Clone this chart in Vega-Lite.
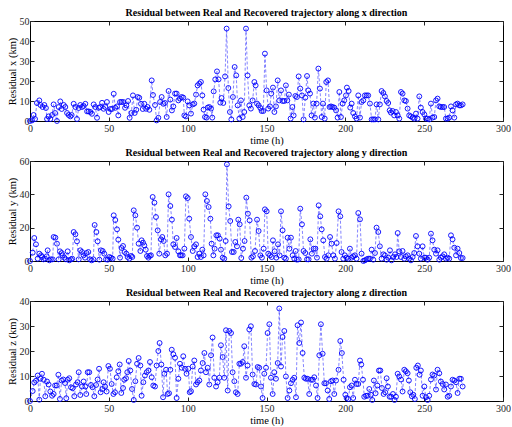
{
"$schema":"https://vega.github.io/schema/vega-lite/v6.json",
"padding":{"left":6,"top":7,"right":0,"bottom":0},
"spacing":1,
"config":{"font":"Liberation Serif","view":{"stroke":"#000","strokeWidth":1},
"axis":{"domain":false,"grid":false,"tickSize":-4,"tickColor":"#262626","labelFont":"Liberation Serif","labelFontSize":10,"labelColor":"#262626","labelFlush":false,"titleFont":"Liberation Serif","titleFontSize":10.5,"titleFontWeight":"normal","titleColor":"#000","titlePadding":2},
"axisBottom":{"labelPadding":6},
"axisLeft":{"labelPadding":5},
"axisTop":{"labelPadding":0,"minExtent":0,"maxExtent":0},
"axisRight":{"labelPadding":0,"minExtent":0,"maxExtent":0},
"title":{"font":"Liberation Serif","fontSize":10,"fontWeight":"bold","color":"#000","anchor":"middle","frame":"group","offset":1,"dy":3}},
"datasets":{
"px":[{"t":0,"v":0},{"t":1.3,"v":0.3},{"t":2.3,"v":3},{"t":3.2,"v":1},{"t":4.4,"v":9},{"t":5.9,"v":10.3},{"t":6.6,"v":8},{"t":8,"v":7},{"t":9.1,"v":8},{"t":10.1,"v":6.5},{"t":10.8,"v":1},{"t":11.8,"v":2.3},{"t":12.9,"v":1},{"t":14,"v":3},{"t":15,"v":8.3},{"t":15.9,"v":4},{"t":17.1,"v":0},{"t":18.2,"v":7},{"t":19.2,"v":9.8},{"t":20.1,"v":6},{"t":21.4,"v":8},{"t":22.4,"v":7},{"t":23.5,"v":4},{"t":24.5,"v":3},{"t":25.6,"v":2.3},{"t":26.4,"v":3},{"t":27.7,"v":8.6},{"t":28.8,"v":7},{"t":29.8,"v":1},{"t":30.9,"v":6.5},{"t":31.9,"v":8},{"t":33,"v":7},{"t":34,"v":7.5},{"t":35.1,"v":8.6},{"t":36.2,"v":4.8},{"t":37.2,"v":4.8},{"t":38.3,"v":4.5},{"t":39.3,"v":3.6},{"t":40.4,"v":8.3},{"t":41.4,"v":7},{"t":42.5,"v":1.6},{"t":43.6,"v":6.6},{"t":44.6,"v":7},{"t":45.7,"v":9.1},{"t":46.7,"v":6.1},{"t":47.8,"v":7},{"t":48.8,"v":9.5},{"t":49.9,"v":4.5},{"t":51,"v":6},{"t":52,"v":6},{"t":53.1,"v":13.6},{"t":54.1,"v":6.6},{"t":55.2,"v":7.3},{"t":56,"v":2.8},{"t":57.1,"v":9.5},{"t":58.1,"v":9.5},{"t":59.2,"v":9.5},{"t":60.3,"v":6.6},{"t":61.1,"v":7.8},{"t":62.2,"v":10},{"t":63.2,"v":1.6},{"t":64.3,"v":4},{"t":65.3,"v":12.8},{"t":66.4,"v":4},{"t":67.4,"v":5.6},{"t":68.3,"v":12},{"t":69.3,"v":11.6},{"t":70.4,"v":8.6},{"t":71.5,"v":6},{"t":72.5,"v":8.6},{"t":73.6,"v":6.1},{"t":74.6,"v":7},{"t":75.7,"v":5.6},{"t":77.2,"v":20.3},{"t":78,"v":13},{"t":79.3,"v":8},{"t":80.3,"v":0.3},{"t":81.4,"v":1.6},{"t":82.5,"v":9.5},{"t":83.5,"v":12},{"t":84.6,"v":8.6},{"t":85.6,"v":9},{"t":86.7,"v":2},
{"t":87.9,"v":15},{"t":89,"v":10.7},{"t":90,"v":5.3},{"t":90.9,"v":7.3},{"t":92,"v":13.7},{"t":93,"v":13.7},{"t":94.1,"v":10.3},{"t":95.1,"v":11.2},{"t":96.2,"v":12},{"t":97.2,"v":11.7},{"t":97.9,"v":2.8},{"t":98.9,"v":2.3},{"t":100,"v":9.8},{"t":101,"v":7.8},{"t":102.1,"v":3.7},{"t":103.2,"v":8.3},{"t":104.2,"v":8.7},{"t":105.3,"v":13.2},{"t":106.3,"v":17.8},{"t":107.4,"v":18.7},{"t":108.4,"v":19.5},{"t":109.3,"v":12.8},{"t":110.1,"v":5.7},{"t":111,"v":2},{"t":112,"v":1.7},{"t":112.7,"v":6.7},{"t":113.7,"v":7},{"t":114.8,"v":6.2},{"t":115.6,"v":1.7},{"t":116.5,"v":14.8},{"t":117.5,"v":20.8},{"t":118.6,"v":24.8},{"t":119.6,"v":20.8},{"t":120.7,"v":9.2},{"t":121.5,"v":11.5},{"t":122.6,"v":9},{"t":123.7,"v":22.3},{"t":124.7,"v":46.2},{"t":125.8,"v":16.5},{"t":126.8,"v":4.5},{"t":127.7,"v":0.8},{"t":128.7,"v":12},{"t":129.8,"v":27},{"t":130.8,"v":22.8},{"t":131.7,"v":7.8},{"t":132.8,"v":1.2},{"t":133.8,"v":10.3},{"t":134.9,"v":2},{"t":135.9,"v":4.5},{"t":137,"v":46.2},{"t":138,"v":22.8},{"t":139.1,"v":7.8},{"t":140.1,"v":6.2},{"t":141.2,"v":10.3},{"t":142.3,"v":19.5},{"t":143.1,"v":17.8},{"t":144,"v":8.7},{"t":145,"v":7.8},{"t":146.1,"v":6.5},{"t":146.9,"v":5},{"t":148,"v":5},{"t":149,"v":33.7},{"t":150.1,"v":15.3},{"t":151.1,"v":6.2},{"t":152.2,"v":7.3},{"t":153,"v":13.7},{"t":154.1,"v":16.7},{"t":155,"v":4.5},{"t":156,"v":7.3},{"t":157.1,"v":20.3},{"t":158.1,"v":10.3},{"t":159.2,"v":15.3},{"t":160.2,"v":10},{"t":161.3,"v":10},{"t":162.3,"v":17.8},{"t":163.2,"v":10.3},{"t":164.2,"v":13.2},{"t":165.3,"v":1.2},{"t":166.4,"v":7},{"t":167.2,"v":2.8},{"t":168.3,"v":12.5},{"t":169.3,"v":12},{"t":170.4,"v":22.3},{"t":171.4,"v":16.2},{"t":172.5,"v":12.8},{"t":173.5,"v":0.8},{"t":174.6,"v":11.7},{"t":175.7,"v":22.5},{"t":176.5,"v":15.3},{"t":177.6,"v":13.7},{"t":178.6,"v":2.8},{"t":179.7,"v":8.7},{"t":180.7,"v":1.7},{"t":181.8,"v":8.7},{"t":182.9,"v":26.2},{"t":183.9,"v":16.2},{"t":185,"v":2},{"t":185.8,"v":8.7},{"t":186.9,"v":1.2},{"t":187.9,"v":19.5},{"t":189,"v":20.3},{"t":190,"v":7},{"t":190.9,"v":7.3},{"t":191.9,"v":7},{"t":193,"v":6.7},{"t":194.1,"v":5.3},{"t":195.1,"v":1.7},
{"t":196.2,"v":14.5},{"t":197.2,"v":2},{"t":198.3,"v":8.7},{"t":199.3,"v":10.3},{"t":200.4,"v":12.8},{"t":201,"v":16.7},{"t":202.1,"v":15},{"t":203.1,"v":6.7},{"t":204,"v":8.7},{"t":205,"v":4},{"t":206.1,"v":2.3},{"t":207.1,"v":1.2},{"t":208.2,"v":12.8},{"t":209.3,"v":1.7},{"t":210.3,"v":9.5},{"t":211.4,"v":10.3},{"t":212.4,"v":12.8},{"t":213.5,"v":12.8},{"t":214.5,"v":12.8},{"t":215.6,"v":8.7},{"t":216.7,"v":0.8},{"t":217.7,"v":0.8},{"t":218.8,"v":0.8},{"t":219.8,"v":8.3},{"t":220.9,"v":0.8},{"t":221.9,"v":8.3},{"t":223,"v":15},{"t":224.1,"v":14},{"t":225.1,"v":12.3},{"t":226.2,"v":10},{"t":227.2,"v":9},{"t":228.1,"v":5.3},{"t":228.9,"v":4.2},{"t":230,"v":5},{"t":231,"v":2.8},{"t":232.1,"v":4.5},{"t":233.2,"v":2.8},{"t":234.2,"v":1.2},{"t":235.3,"v":14.5},{"t":236.3,"v":13.7},{"t":237.4,"v":10.3},{"t":238.4,"v":10},{"t":239.5,"v":6.2},{"t":240.5,"v":2.8},{"t":241.6,"v":2.3},{"t":242.7,"v":1.7},{"t":243.7,"v":1.2},{"t":244.8,"v":3.7},{"t":245.8,"v":1.2},{"t":246.9,"v":12.3},{"t":247.9,"v":6.7},{"t":249,"v":4.5},{"t":250.1,"v":3.3},{"t":251.1,"v":1.2},{"t":252.2,"v":1.2},{"t":253.2,"v":0.8},{"t":254.3,"v":8.7},{"t":255.3,"v":1.7},{"t":256.4,"v":2},{"t":257.5,"v":10.3},{"t":258.5,"v":11.2},{"t":259.6,"v":7.3},{"t":260.6,"v":7},{"t":261.7,"v":7},{"t":262.7,"v":7},{"t":263.8,"v":1.2},{"t":264.9,"v":1.2},{"t":265.9,"v":1.7},{"t":267,"v":7.3},{"t":268,"v":5.3},{"t":269.1,"v":1.7},{"t":270.2,"v":8.3},{"t":271.2,"v":8.7},{"t":272.3,"v":7.8},{"t":273.3,"v":7.8},{"t":274.4,"v":8.3}],
"py":[{"t":0,"v":0},{"t":1.7,"v":5},{"t":2.7,"v":13.8},{"t":3.8,"v":10},{"t":4.9,"v":1.4},{"t":5.9,"v":4.4},{"t":7,"v":3.4},{"t":7.6,"v":2.4},{"t":8.5,"v":1},{"t":9.5,"v":1.4},{"t":10.6,"v":2.8},{"t":11.2,"v":6.4},{"t":12.3,"v":0.4},{"t":13.3,"v":1},{"t":14.4,"v":1},{"t":15,"v":14.4},{"t":16.1,"v":14},{"t":17.1,"v":10.4},{"t":18.2,"v":1},{"t":19,"v":5.8},{"t":20.1,"v":4.8},{"t":20.7,"v":3.4},{"t":21.8,"v":2},{"t":22.8,"v":1},{"t":23.9,"v":5.8},{"t":24.9,"v":0.4},{"t":26,"v":1},{"t":26.8,"v":1.4},{"t":27.7,"v":17.4},{"t":28.8,"v":16},{"t":29.8,"v":11.8},{"t":30.9,"v":1},{"t":31.9,"v":6.4},{"t":33,"v":5.4},{"t":34,"v":3.4},{"t":34.9,"v":2},{"t":35.9,"v":4.8},{"t":37,"v":5.4},{"t":38.1,"v":1},{"t":39.1,"v":0.4},{"t":40.2,"v":1},{"t":41,"v":21.6},{"t":42.1,"v":17.4},{"t":42.9,"v":11.8},{"t":44,"v":0.8},{"t":45,"v":6.4},{"t":46.1,"v":6},{"t":47.1,"v":4.4},{"t":48.2,"v":1},{"t":49.3,"v":0.8},{"t":50.3,"v":2.4},{"t":51.4,"v":2},{"t":52.4,"v":1.4},{"t":53.1,"v":27.4},{"t":54.1,"v":24.6},{"t":55.2,"v":19},{"t":56,"v":12.8},{"t":57.1,"v":2},{"t":58.1,"v":7.8},{"t":59,"v":9},{"t":60,"v":5.4},{"t":61.1,"v":4.4},{"t":61.9,"v":2.4},{"t":63,"v":1.4},{"t":64.1,"v":3},{"t":64.9,"v":2.4},{"t":65.8,"v":30.4},{"t":66.8,"v":27.4},{"t":67.9,"v":20},{"t":68.9,"v":10.4},{"t":70,"v":6},{"t":70.8,"v":12.4},{"t":71.7,"v":11},{"t":72.5,"v":9.4},{"t":73.4,"v":6.8},{"t":74.2,"v":3},{"t":75.1,"v":2},{"t":75.9,"v":3},{"t":76.7,"v":3.4},{"t":77.8,"v":38.4},{"t":78.9,"v":35},{"t":79.9,"v":26.4},{"t":81,"v":18.4},{"t":82,"v":4.4},{"t":83.1,"v":13},{"t":83.9,"v":14.4},{"t":84.8,"v":12},{"t":85.8,"v":3.4},{"t":86.9,"v":4.4},
{"t":87.9,"v":40},{"t":89,"v":33},{"t":90,"v":24.8},{"t":90.9,"v":10},{"t":92,"v":8.4},{"t":93,"v":13.8},{"t":94.1,"v":5.8},{"t":95.1,"v":3.4},{"t":95.8,"v":3.4},{"t":96.8,"v":3.4},{"t":97.9,"v":7.4},{"t":98.9,"v":38.8},{"t":100,"v":37.8},{"t":101,"v":25.4},{"t":102.1,"v":14.4},{"t":103.2,"v":6},{"t":104.2,"v":8.8},{"t":105.3,"v":10},{"t":106.3,"v":2.4},{"t":107.4,"v":4.4},{"t":108.4,"v":2.4},{"t":109.3,"v":6.8},{"t":110.1,"v":3.4},{"t":111.2,"v":40},{"t":112.2,"v":36},{"t":113.3,"v":32.4},{"t":114.4,"v":25.4},{"t":115.2,"v":10.4},{"t":116.3,"v":3.4},{"t":117.1,"v":7.4},{"t":118.2,"v":15.4},{"t":119.2,"v":15.4},{"t":120.3,"v":13.4},{"t":121.1,"v":6.8},{"t":122.2,"v":2},{"t":123.2,"v":1.4},{"t":124.1,"v":12},{"t":124.9,"v":58},{"t":126,"v":32.8},{"t":127,"v":24},{"t":128.1,"v":5.4},{"t":129.2,"v":5.4},{"t":130.2,"v":11.4},{"t":131.3,"v":8.8},{"t":132.1,"v":24.8},{"t":133,"v":22},{"t":134,"v":1.8},{"t":135.1,"v":7.4},{"t":136.1,"v":12},{"t":137.2,"v":38},{"t":138.2,"v":28.4},{"t":139.3,"v":24.4},{"t":140.4,"v":2},{"t":141.4,"v":2.8},{"t":142.7,"v":6},{"t":144,"v":24.8},{"t":145,"v":18},{"t":146.1,"v":3.4},{"t":147.1,"v":2},{"t":148.2,"v":7.4},{"t":149,"v":31},{"t":150.1,"v":29.8},{"t":151.1,"v":4.4},{"t":152.2,"v":3.4},{"t":153.3,"v":2.4},{"t":154.1,"v":12.4},{"t":155.2,"v":5.8},{"t":156.2,"v":2},{"t":157.3,"v":10},{"t":158.3,"v":3.4},{"t":159.2,"v":29.8},{"t":160.2,"v":18.4},{"t":161.3,"v":2},{"t":162.3,"v":1.4},{"t":163.4,"v":14},{"t":164.5,"v":7.4},{"t":165.5,"v":14},{"t":166.6,"v":3.4},{"t":167.6,"v":1.4},{"t":168.5,"v":6},{"t":169.3,"v":0.8},{"t":170.4,"v":1},{"t":171.4,"v":31.4},{"t":172.5,"v":22},{"t":173.5,"v":6},{"t":174.6,"v":4.8},{"t":175.7,"v":1},{"t":176.7,"v":1},{"t":177.8,"v":13},{"t":178.8,"v":4.4},{"t":179.9,"v":7.4},{"t":181,"v":7.4},{"t":182,"v":2},{"t":183.1,"v":33.4},{"t":184.1,"v":26.8},{"t":185,"v":19},{"t":186,"v":12.4},{"t":187.1,"v":2.4},{"t":188.1,"v":1.4},{"t":189.2,"v":3.4},{"t":190.3,"v":14.4},{"t":191.3,"v":10.4},{"t":192.4,"v":3.4},{"t":193.4,"v":1.4},{"t":194.5,"v":10.8},
{"t":195.7,"v":29.8},{"t":196.8,"v":26.8},{"t":197.6,"v":5.4},{"t":198.7,"v":1.4},{"t":199.7,"v":3.4},{"t":200.8,"v":2},{"t":201.9,"v":1.4},{"t":202.9,"v":7.4},{"t":204,"v":2},{"t":205,"v":2.8},{"t":206.1,"v":3.4},{"t":207.1,"v":1.4},{"t":208.2,"v":28.8},{"t":209.3,"v":25},{"t":210.3,"v":4.4},{"t":211.4,"v":0},{"t":212.4,"v":0.4},{"t":213.5,"v":1},{"t":214.5,"v":1.4},{"t":215.6,"v":1.4},{"t":216.7,"v":6.8},{"t":217.7,"v":0.8},{"t":218.8,"v":4.8},{"t":219.8,"v":20},{"t":220.9,"v":17.4},{"t":221.9,"v":8.8},{"t":223,"v":1.4},{"t":224.1,"v":4},{"t":225.1,"v":3.4},{"t":226.2,"v":0.8},{"t":227.2,"v":2},{"t":228.3,"v":6.4},{"t":229.3,"v":0.4},{"t":230.4,"v":2.4},{"t":231.5,"v":4},{"t":232.5,"v":2.4},{"t":233.2,"v":16.8},{"t":234.2,"v":5.8},{"t":235.3,"v":2.4},{"t":236.3,"v":6},{"t":237.4,"v":1.4},{"t":238.4,"v":2.8},{"t":239.5,"v":3.4},{"t":240.5,"v":1.4},{"t":241.6,"v":0.4},{"t":242.7,"v":2.4},{"t":243.7,"v":4.8},{"t":244.8,"v":15},{"t":245.8,"v":8.8},{"t":246.9,"v":4.4},{"t":247.9,"v":1.4},{"t":249,"v":8.8},{"t":250.1,"v":2},{"t":251.1,"v":2},{"t":252.2,"v":0.8},{"t":253.2,"v":2},{"t":254.3,"v":16.4},{"t":255.3,"v":12.4},{"t":256.4,"v":6.8},{"t":257.5,"v":4.4},{"t":258.5,"v":6.4},{"t":259.6,"v":0.8},{"t":260.6,"v":2},{"t":261.7,"v":2.8},{"t":262.7,"v":4},{"t":263.8,"v":1.4},{"t":264.9,"v":2},{"t":265.9,"v":1.4},{"t":267,"v":15.4},{"t":268,"v":13},{"t":269.1,"v":8},{"t":270.2,"v":3.4},{"t":271.2,"v":7.4},{"t":272.3,"v":4.8},{"t":273.3,"v":1.8},{"t":274.4,"v":1.8}],
"pz":[{"t":0,"v":0},{"t":1.7,"v":4},{"t":2.7,"v":7.4},{"t":3.8,"v":8.1},{"t":4.9,"v":10.2},{"t":5.9,"v":0.5},{"t":6.6,"v":8.9},{"t":7.6,"v":10.9},{"t":8.7,"v":8.5},{"t":9.7,"v":1.9},{"t":10.8,"v":7.8},{"t":11.8,"v":6.6},{"t":12.9,"v":3.8},{"t":14,"v":2.1},{"t":15,"v":2.8},{"t":15.9,"v":6.2},{"t":16.9,"v":6.2},{"t":18,"v":10.5},{"t":19,"v":0.8},{"t":20.1,"v":8.2},{"t":21.1,"v":8.6},{"t":22.2,"v":7.2},{"t":23,"v":1.1},{"t":23.9,"v":8.5},{"t":24.9,"v":9.1},{"t":26,"v":5.5},{"t":27,"v":5.1},{"t":28.1,"v":1.9},{"t":29.2,"v":6.6},{"t":30.2,"v":7.5},{"t":30.9,"v":11.5},{"t":31.9,"v":2.4},{"t":33,"v":5.8},{"t":34,"v":7.8},{"t":35.1,"v":5.8},{"t":35.7,"v":2.8},{"t":36.6,"v":11.5},{"t":37.6,"v":11.5},{"t":38.7,"v":6.4},{"t":39.7,"v":5.5},{"t":40.8,"v":1.9},{"t":41.9,"v":6.4},{"t":42.9,"v":8.6},{"t":43.8,"v":12.9},{"t":44.8,"v":3.5},{"t":45.9,"v":4.8},{"t":46.7,"v":7.5},{"t":47.6,"v":5.8},{"t":48.6,"v":3.8},{"t":49.7,"v":14},{"t":50.7,"v":12.9},{"t":51.8,"v":6.8},{"t":52.9,"v":2.8},{"t":53.9,"v":3.5},{"t":55,"v":9.5},{"t":56,"v":11.9},{"t":56.9,"v":14.6},{"t":57.9,"v":3.2},{"t":59,"v":5.2},{"t":59.8,"v":8.5},{"t":60.9,"v":9.1},{"t":61.7,"v":11.5},{"t":62.6,"v":16},{"t":63.6,"v":12.2},{"t":64.7,"v":4.8},{"t":65.8,"v":0.4},{"t":66.8,"v":7.9},{"t":67.9,"v":14.9},{"t":68.9,"v":17.2},{"t":70,"v":14.2},{"t":70.8,"v":2.1},{"t":71.9,"v":7.5},{"t":72.9,"v":10.2},{"t":74,"v":11.5},{"t":75.1,"v":12.2},{"t":76.1,"v":15.6},{"t":77.2,"v":9.5},{"t":78.2,"v":6.2},{"t":79.3,"v":5.8},{"t":80.3,"v":14.2},{"t":81.4,"v":20},{"t":82.2,"v":23.2},{"t":83.3,"v":14.6},{"t":84.4,"v":1.5},{"t":85.2,"v":10.9},{"t":86.3,"v":12.5},{"t":87.3,"v":2.8},{"t":88.2,"v":3.1},{"t":89,"v":12.5},{"t":89.9,"v":20.5},{"t":90.9,"v":18.7},{"t":92,"v":17.3},{"t":93,"v":1.2},
{"t":94.1,"v":8.9},{"t":95.1,"v":14.9},{"t":96.2,"v":13.3},{"t":97.2,"v":17.9},{"t":98.3,"v":12.9},{"t":99.3,"v":10.9},{"t":100.4,"v":12.9},{"t":101.3,"v":3.5},{"t":102.1,"v":3.9},{"t":103.2,"v":13.8},{"t":104.2,"v":16.2},{"t":105.3,"v":6.6},{"t":106.3,"v":7.5},{"t":107.4,"v":8.2},{"t":108.4,"v":12.2},{"t":109.5,"v":15.2},{"t":110.6,"v":19.2},{"t":111.6,"v":11.5},{"t":112.7,"v":13.3},{"t":113.7,"v":6.6},{"t":114.8,"v":18.3},{"t":115.8,"v":25.4},{"t":116.9,"v":9.3},{"t":118,"v":5.8},{"t":119,"v":7.5},{"t":120.1,"v":9.3},{"t":121.1,"v":22.3},{"t":122.2,"v":17.6},{"t":123.2,"v":9.3},{"t":124.3,"v":28.3},{"t":125.4,"v":4.2},{"t":126.4,"v":28},{"t":127.5,"v":27.2},{"t":128.5,"v":11.5},{"t":129.6,"v":7.9},{"t":130.6,"v":3.5},{"t":131.7,"v":2.8},{"t":132.8,"v":14.9},{"t":133.8,"v":14.9},{"t":134.9,"v":15.6},{"t":135.9,"v":21.9},{"t":137,"v":9.3},{"t":138,"v":14.2},{"t":139.1,"v":28.6},{"t":140.1,"v":29.9},{"t":141.2,"v":10.6},{"t":142.3,"v":6.8},{"t":143.3,"v":6.6},{"t":144.4,"v":13.6},{"t":145.4,"v":13.3},{"t":146.5,"v":5.8},{"t":147.5,"v":1.2},{"t":148.6,"v":10.9},{"t":149.7,"v":13.3},{"t":150.7,"v":27.2},{"t":151.8,"v":30.7},{"t":152.8,"v":9.3},{"t":153.9,"v":2.8},{"t":154.9,"v":11.5},{"t":156,"v":8.9},{"t":157.1,"v":15.2},{"t":158.1,"v":37},{"t":159.2,"v":13.8},{"t":160.2,"v":25.6},{"t":161.3,"v":28},{"t":162.3,"v":9.8},{"t":163.4,"v":1.2},{"t":164.5,"v":4.2},{"t":165.5,"v":7.1},{"t":166.6,"v":8.5},{"t":167.6,"v":9.3},{"t":168.7,"v":1.5},{"t":169.7,"v":30.3},{"t":170.8,"v":23.2},{"t":171.9,"v":31.4},{"t":172.9,"v":19.2},{"t":174,"v":9.3},{"t":175,"v":8.9},{"t":176.1,"v":8.9},{"t":177.1,"v":2.8},{"t":178.2,"v":8.5},{"t":179.3,"v":8.5},{"t":180.3,"v":9.5},{"t":181.4,"v":6.2},{"t":182.4,"v":1.2},{"t":183.5,"v":18.3},{"t":184.5,"v":30.7},{"t":185.6,"v":18.9},{"t":186.7,"v":7.1},{"t":187.7,"v":7.1},{"t":188.8,"v":4.2},{"t":189.8,"v":0.8},{"t":190.9,"v":7.9},{"t":191.9,"v":8.2},{"t":193,"v":2.8},{"t":194.1,"v":8.2},
{"t":195.7,"v":12.5},{"t":196.8,"v":24},{"t":197.8,"v":19.2},{"t":198.9,"v":8.5},{"t":200,"v":2.5},{"t":200.8,"v":1.2},{"t":201.9,"v":0.8},{"t":202.9,"v":5.5},{"t":204,"v":6.2},{"t":205,"v":1.2},{"t":206.1,"v":8.5},{"t":207.1,"v":6.8},{"t":208.2,"v":6.8},{"t":209.3,"v":16.2},{"t":210.1,"v":14.6},{"t":211.2,"v":8.5},{"t":212,"v":1.7},{"t":213.1,"v":2.1},{"t":214.1,"v":2.1},{"t":215.2,"v":4.8},{"t":216.2,"v":2.5},{"t":217.1,"v":0.4},{"t":218.1,"v":8.2},{"t":219.2,"v":3.1},{"t":220.3,"v":6.2},{"t":221.3,"v":12.2},{"t":222.2,"v":12.2},{"t":223.2,"v":5.2},{"t":224.3,"v":2.8},{"t":225.3,"v":3.5},{"t":226.2,"v":9.1},{"t":227,"v":5.8},{"t":228.1,"v":1.7},{"t":229.1,"v":1.7},{"t":230.2,"v":2.8},{"t":231.2,"v":0.4},{"t":232.1,"v":1.7},{"t":233.2,"v":10.9},{"t":234.2,"v":9.8},{"t":235.3,"v":8.6},{"t":236.3,"v":3.8},{"t":237.4,"v":12.5},{"t":238.4,"v":11.9},{"t":239.5,"v":11.1},{"t":240.3,"v":8.2},{"t":241.2,"v":3.5},{"t":242.2,"v":1.9},{"t":243.1,"v":2.5},{"t":244.1,"v":0.8},{"t":245,"v":13.3},{"t":246,"v":14.2},{"t":247.1,"v":10.5},{"t":247.9,"v":12.2},{"t":249,"v":2.1},{"t":250.1,"v":5.8},{"t":251.1,"v":1.5},{"t":252.2,"v":0.4},{"t":253.2,"v":2.1},{"t":254.3,"v":8.6},{"t":255.3,"v":10.6},{"t":256.4,"v":10.2},{"t":257.5,"v":4.6},{"t":258.5,"v":12.5},{"t":259.6,"v":11.1},{"t":260.6,"v":7.8},{"t":261.7,"v":6.8},{"t":262.7,"v":4.6},{"t":263.8,"v":6.6},{"t":264.9,"v":1.7},{"t":265.9,"v":2.1},{"t":267,"v":5.8},{"t":268,"v":8.5},{"t":269.1,"v":8.2},{"t":270.2,"v":7.5},{"t":271.2,"v":3.2},{"t":272.3,"v":8.9},{"t":273.3,"v":8.9},{"t":274.4,"v":5.8}]
},
"vconcat":[
{"width":473,"height":100,"data":{"name":"px"},
"title":{"text":"Residual between Real and Recovered trajectory along x direction"},
"resolve":{"axis":{"x":"independent","y":"independent"}},
"layer":[
{"mark":{"type":"line","stroke":"#3030ff","strokeWidth":0.6,"strokeDash":[3,2]},
"encoding":{"x":{"field":"t","type":"quantitative","scale":{"domain":[0,300],"nice":false},"axis":{"title":"time (h)","values":[0,50,100,150,200,250,300]}},
"y":{"field":"v","type":"quantitative","scale":{"domain":[0,50],"nice":false},"axis":{"title":"Residual x (km)","values":[0,10,20,30,40,50]}}}},
{"mark":{"type":"point","shape":"circle","filled":false,"stroke":"#0000ff","strokeWidth":0.9,"size":24,"opacity":1},
"encoding":{"x":{"field":"t","type":"quantitative","axis":{"orient":"top","labels":false,"title":null,"values":[0,50,100,150,200,250,300]}},
"y":{"field":"v","type":"quantitative","axis":{"orient":"right","labels":false,"title":null,"values":[0,10,20,30,40,50]}}}}
]},
{"width":473,"height":100,"data":{"name":"py"},
"title":{"text":"Residual between Real and Recovered trajectory along y direction"},
"resolve":{"axis":{"x":"independent","y":"independent"}},
"layer":[
{"mark":{"type":"line","stroke":"#3030ff","strokeWidth":0.6,"strokeDash":[3,2]},
"encoding":{"x":{"field":"t","type":"quantitative","scale":{"domain":[0,300],"nice":false},"axis":{"title":"time (h)","values":[0,50,100,150,200,250,300]}},
"y":{"field":"v","type":"quantitative","scale":{"domain":[0,60],"nice":false},"axis":{"title":"Residual y (km)","values":[0,20,40,60]}}}},
{"mark":{"type":"point","shape":"circle","filled":false,"stroke":"#0000ff","strokeWidth":0.9,"size":24,"opacity":1},
"encoding":{"x":{"field":"t","type":"quantitative","axis":{"orient":"top","labels":false,"title":null,"values":[0,50,100,150,200,250,300]}},
"y":{"field":"v","type":"quantitative","axis":{"orient":"right","labels":false,"title":null,"values":[0,20,40,60]}}}}
]},
{"width":473,"height":100,"data":{"name":"pz"},
"title":{"text":"Residual between Real and Recovered trajectory along z direction"},
"resolve":{"axis":{"x":"independent","y":"independent"}},
"layer":[
{"mark":{"type":"line","stroke":"#3030ff","strokeWidth":0.6,"strokeDash":[3,2]},
"encoding":{"x":{"field":"t","type":"quantitative","scale":{"domain":[0,300],"nice":false},"axis":{"title":"time (h)","values":[0,50,100,150,200,250,300]}},
"y":{"field":"v","type":"quantitative","scale":{"domain":[0,40],"nice":false},"axis":{"title":"Residual z (km)","values":[0,10,20,30,40]}}}},
{"mark":{"type":"point","shape":"circle","filled":false,"stroke":"#0000ff","strokeWidth":0.9,"size":24,"opacity":1},
"encoding":{"x":{"field":"t","type":"quantitative","axis":{"orient":"top","labels":false,"title":null,"values":[0,50,100,150,200,250,300]}},
"y":{"field":"v","type":"quantitative","axis":{"orient":"right","labels":false,"title":null,"values":[0,10,20,30,40]}}}}
]}
]
}
